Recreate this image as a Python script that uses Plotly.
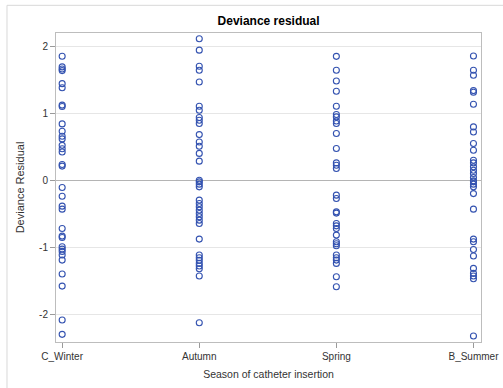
import plotly.graph_objects as go

# Seasons in axis order
seasons = ["C_Winter", "Autumn", "Spring", "B_Summer"]

# Deviance residuals for each season group
resid_winter = [1.86, 1.70, 1.67, 1.645, 1.45, 1.39, 1.13, 1.11, 0.85, 0.74,
                0.666, 0.626, 0.53, 0.48, 0.43, 0.245, 0.22, -0.10, -0.23,
                -0.377, -0.422, -0.71, -0.824, -0.844, -0.983, -1.018, -1.052,
                -1.107, -1.182, -1.39, -1.57, -2.076, -2.29]
resid_autumn = [2.12, 1.95, 1.71, 1.65, 1.476, 1.113, 1.054, 0.945, 0.905,
                0.855, 0.69, 0.58, 0.517, 0.41, 0.294, 0.01, -0.015, -0.049,
                -0.089, -0.288, -0.337, -0.387, -0.437, -0.486, -0.536, -0.586,
                -0.635, -0.869, -1.107, -1.147, -1.186, -1.231, -1.271, -1.311,
                -1.42, -2.116]
resid_spring = [1.858, 1.65, 1.49, 1.337, 1.113, 0.989, 0.954, 0.894, 0.855,
                0.706, 0.482, 0.268, 0.234, 0.185, -0.213, -0.263, -0.462,
                -0.481, -0.635, -0.671, -0.71, -0.809, -0.909, -0.939, -0.969,
                -1.107, -1.147, -1.182, -1.231, -1.431, -1.58]
resid_summer = [1.863, 1.65, 1.575, 1.347, 1.322, 1.143, 0.805, 0.73, 0.557,
                0.457, 0.308, 0.268, 0.209, 0.159, 0.11, 0.05, 0.0, -0.015,
                -0.049, -0.089, -0.19, -0.422, -0.869, -0.909, -1.023, -1.122,
                -1.306, -1.38, -1.42, -1.46, -2.314]

y_ticks = [-2, -1, 0, 1, 2]
y_tick_labels = ["-2", "-1", "0", "1", "2"]

groups = [resid_winter, resid_autumn, resid_spring, resid_summer]

fig = go.Figure()
for season, vals in zip(seasons, groups):
    fig.add_trace(go.Scatter(
        x=[season] * len(vals),
        y=vals,
        mode="markers",
        marker=dict(symbol="circle-open", size=6, color="#3352B0",
                    line=dict(width=1.1, color="#3352B0")),
        showlegend=False,
        hoverinfo="x+y",
    ))

font_family = "Liberation Sans, Arial, sans-serif"

fig.update_layout(
    width=503, height=388,
    margin=dict(l=56, r=22, t=33, b=46),
    paper_bgcolor="white",
    plot_bgcolor="white",
    font=dict(family=font_family, size=10, color="#333333"),
    title=dict(text="<b>Deviance residual</b>", x=0.534, xanchor="center",
               y=1 - 21 / 388, yanchor="middle",
               font=dict(size=12, color="#000000", family=font_family)),
    xaxis=dict(
        type="category",
        categoryorder="array", categoryarray=seasons,
        range=[-0.045, 3.055],
        automargin=False,
        showgrid=False,
        showline=True, linecolor="#BDBDBD", linewidth=1, mirror=True,
        ticks="outside", ticklen=5, tickcolor="#9A9A9A",
        tickfont=dict(size=10, color="#333333"),
        title=dict(text="Season of catheter insertion", standoff=9,
                   font=dict(size=10.5, color="#333333")),
        zeroline=False,
    ),
    yaxis=dict(
        range=[-2.404, 2.206],
        automargin=False,
        tickvals=y_ticks, ticktext=y_tick_labels,
        showgrid=True, gridcolor="#E6E6E6", gridwidth=1,
        showline=True, linecolor="#BDBDBD", linewidth=1, mirror=True,
        ticks="outside", ticklen=5, tickcolor="#9A9A9A",
        tickfont=dict(size=10, color="#333333"),
        title=dict(text="Deviance Residual", standoff=12,
                   font=dict(size=11, color="#333333")),
        zeroline=True, zerolinecolor="#B4B4B4", zerolinewidth=1,
    ),
    shapes=[dict(type="rect", xref="paper", yref="paper",
                 x0=-0.1153, x1=1.2, y0=-0.3, y1=1.0896,
                 line=dict(color="#D8D8D8", width=1), layer="below")],
)

fig.write_html("out.html")
